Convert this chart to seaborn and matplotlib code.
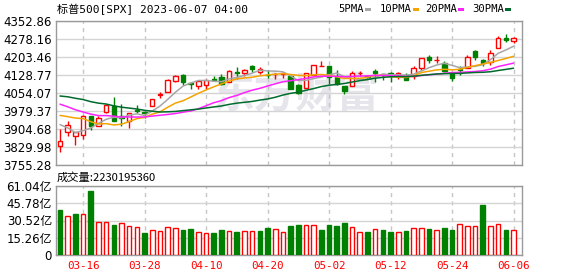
import numpy as np
import pandas as pd
import matplotlib
matplotlib.use("Agg")
import matplotlib.pyplot as plt
from matplotlib.patches import Rectangle
import seaborn as sns

# ---------------- data ----------------
dates = ['03-13','03-14','03-15','03-16','03-17','03-20','03-21','03-22','03-23','03-24',
         '03-27','03-28','03-29','03-30','03-31','04-03','04-04','04-05','04-06','04-10',
         '04-11','04-12','04-13','04-14','04-17','04-18','04-19','04-20','04-21','04-24',
         '04-25','04-26','04-27','04-28','05-01','05-02','05-03','05-04','05-05','05-08',
         '05-09','05-10','05-11','05-12','05-15','05-16','05-17','05-18','05-19','05-22',
         '05-23','05-24','05-25','05-26','05-30','05-31','06-01','06-02','06-05','06-06']

open_ = [3835.12, 3894.01, 3876.74, 3878.93, 3958.69, 3917.47, 3975.89, 4002.04, 3959.21, 3939.21,
         3982.93, 3974.13, 3999.53, 4046.74, 4056.18, 4102.20, 4128.03, 4094.50, 4081.15, 4085.20,
         4110.29, 4121.72, 4100.04, 4140.11, 4137.17, 4164.26, 4139.33, 4130.48, 4132.14, 4132.07,
         4126.43, 4087.78, 4075.29, 4129.63, 4166.79, 4164.10, 4122.25, 4082.61, 4084.73, 4136.98,
         4124.25, 4143.74, 4132.24, 4138.54, 4126.65, 4127.95, 4122.85, 4157.68, 4204.15, 4190.78,
         4176.80, 4132.96, 4155.71, 4156.16, 4226.71, 4190.74, 4183.03, 4241.01, 4282.99, 4271.61]

high = [3905.05, 3937.29, 3894.26, 3964.46, 3958.91, 3956.62, 4009.08, 4039.49, 4007.66, 3972.74,
        4003.83, 3979.20, 4030.59, 4057.85, 4110.75, 4127.66, 4133.13, 4099.69, 4107.32, 4109.50,
        4124.26, 4134.37, 4150.26, 4163.19, 4151.72, 4169.48, 4162.57, 4148.57, 4138.02, 4142.41,
        4126.43, 4089.67, 4138.24, 4170.06, 4186.92, 4164.10, 4148.30, 4082.61, 4147.02, 4143.74,
        4130.35, 4154.28, 4132.80, 4143.07, 4141.25, 4135.54, 4164.67, 4199.03, 4212.91, 4209.22,
        4185.68, 4132.96, 4165.74, 4212.87, 4231.10, 4195.44, 4232.43, 4290.67, 4299.28, 4288.33]

low = [3808.86, 3873.63, 3838.24, 3864.11, 3901.27, 3916.89, 3971.19, 3936.17, 3919.05, 3909.16,
       3970.47, 3951.53, 3999.53, 4032.10, 4056.18, 4098.79, 4086.87, 4072.56, 4069.84, 4072.55,
       4102.61, 4086.94, 4099.40, 4113.20, 4123.18, 4140.36, 4134.49, 4114.57, 4113.86, 4117.77,
       4071.38, 4049.35, 4075.29, 4127.18, 4164.12, 4089.72, 4088.86, 4048.28, 4084.73, 4124.86,
       4116.65, 4098.92, 4109.29, 4099.12, 4110.27, 4109.86, 4113.62, 4149.42, 4180.20, 4179.68,
       4142.54, 4103.98, 4129.73, 4156.16, 4192.18, 4166.15, 4171.64, 4241.01, 4266.82, 4263.09]

close = [3855.76, 3919.29, 3891.93, 3960.28, 3916.64, 3951.57, 4002.87, 3936.97, 3948.72, 3970.99,
         3977.53, 3971.27, 4027.81, 4050.83, 4109.31, 4124.51, 4100.60, 4090.38, 4105.02, 4109.11,
         4108.94, 4091.95, 4146.22, 4137.64, 4151.32, 4154.87, 4154.52, 4129.79, 4133.52, 4137.04,
         4071.63, 4055.99, 4135.35, 4169.48, 4167.87, 4119.58, 4090.75, 4061.22, 4136.25, 4138.12,
         4119.17, 4137.64, 4130.62, 4124.08, 4136.28, 4109.90, 4158.77, 4198.05, 4191.98, 4192.63,
         4145.58, 4115.24, 4151.28, 4205.45, 4205.52, 4179.83, 4221.02, 4282.37, 4273.79, 4283.85]

# closes of the 30 sessions before 03-13 (feed the moving averages at the left edge)
prior_close = [4070.56, 4017.77, 4076.60, 4119.21, 4179.76, 4136.48, 4111.08, 4164.00, 4117.86, 4081.50,
               4090.46, 4137.29, 4136.13, 4147.60, 4090.41, 4079.09, 3997.34, 3991.05, 4012.32, 3970.04,
               3982.24, 3970.15, 3951.39, 3981.35, 4045.64, 4048.42, 3986.37, 3992.01, 3918.32, 3861.59]

# volume in 亿 (1e8)
volume_yi = [39.8, 34.5, 36.3, 36.3, 56.6, 29.2, 29.2, 26.5, 28.0, 25.7,
             24.5, 19.5, 22.1, 21.2, 24.8, 23.9, 22.1, 23.0, 20.3, 19.5,
             19.5, 22.4, 21.2, 20.3, 21.5, 21.2, 21.5, 23.9, 23.0, 20.3,
             25.7, 26.5, 26.2, 26.2, 22.1, 26.5, 25.7, 28.3, 24.5, 20.0,
             20.3, 22.7, 22.1, 20.3, 20.0, 21.2, 23.9, 23.9, 23.0, 22.1,
             23.9, 22.1, 27.1, 25.7, 25.4, 44.2, 25.4, 27.1, 22.1, 22.30195360]

price_ticks = [3755.28, 3829.98, 3904.68, 3979.37, 4054.07, 4128.77, 4203.46, 4278.16, 4352.86]
vol_ticks = [0, 15.26, 30.52, 45.78, 61.04]
vol_tick_labels = ['0', '15.26亿', '30.52亿', '45.78亿', '61.04亿']
tick_dates = ['03-16', '03-28', '04-10', '04-20', '05-02', '05-12', '05-24', '06-06']
ma_names = ['5PMA', '10PMA', '20PMA', '30PMA']
ma_periods = [5, 10, 20, 30]
title_text = '标普500[SPX] 2023-06-07 04:00'
vol_title = '成交量:2230195360'

# ---------------- style ----------------
RED = '#ff0000'
GREEN = '#008000'
ma_colors = ['#a6a6a6', '#f5a300', '#ff22ff', '#006b2c']
GRID = '#d4d4d4'
SPINE = '#9a9a9a'

sns.set_theme(style='white')
plt.rcParams['font.family'] = ['DejaVu Sans', 'Noto Sans CJK SC']

W, H = 578, 276
fig = plt.figure(figsize=(W / 100, H / 100), dpi=100)

def px_axes(left, top, right, bottom):
    return fig.add_axes([left / W, 1 - bottom / H, (right - left) / W, (bottom - top) / H])

ax = px_axes(56, 21, 522, 165)
axv = px_axes(56, 186, 522, 255)

n = len(dates)
x = np.arange(n)
o = np.array(open_); c = np.array(close); hi = np.array(high); lo = np.array(low)
up = c >= o
prev = np.concatenate([[prior_close[-1]], c[:-1]])
vol_up = c >= prev

xlim = (-0.52, n - 1 + 1.1)
tick_idx = [dates.index(d) for d in tick_dates]

for a in (ax, axv):
    a.set_facecolor('white')
    a.set_xlim(*xlim)
    for s in a.spines.values():
        s.set_color(SPINE); s.set_linewidth(1.0); s.set_visible(True)
    for t in tick_idx:
        a.axvline(t, color='#c6c6c6', lw=1.0, ls=(0, (3, 3)), zorder=0.5)
    a.tick_params(axis='both', length=0, pad=3, labelsize=8.5, colors='black')
    a.yaxis.grid(True, color=GRID, lw=1.0, zorder=0.4)
    a.xaxis.grid(False)

# watermark
ax.text(0.515, 0.49, '东方财富', transform=ax.transAxes, ha='center', va='center',
        fontsize=30, fontweight='bold', color='#e5e5eb', family=['Noto Sans CJK SC'], zorder=0.3)

# ---------------- candles ----------------
bw = 0.58
body_lo = np.minimum(o, c); body_hi = np.maximum(o, c)
body_h = np.maximum(body_hi - body_lo, 0.6)
cols = np.where(up, RED, GREEN)
ax.vlines(x, lo, body_lo, colors=cols, lw=1.0, zorder=2)
ax.vlines(x, body_hi, hi, colors=cols, lw=1.0, zorder=2)
ax.bar(x, body_h, bottom=body_lo, width=bw, color=np.where(up, 'white', GREEN),
       edgecolor=cols, linewidth=1.0, zorder=3)

# ---------------- moving averages ----------------
allc = pd.Series(prior_close + close)
rows = []
for name, p in zip(ma_names, ma_periods):
    ma = allc.rolling(p).mean().values[-n:]
    rows.append(pd.DataFrame({'x': x, 'v': ma, 'ma': name}))
madf = pd.concat(rows, ignore_index=True)
sns.lineplot(data=madf, x='x', y='v', hue='ma', hue_order=ma_names,
             palette=dict(zip(ma_names, ma_colors)), lw=1.1, legend=False, ax=ax, zorder=4)

ax.set_ylim(price_ticks[0], price_ticks[-1])
ax.set_yticks(price_ticks)
ax.set_yticklabels([f'{t:.2f}' for t in price_ticks])
ax.set_xticks(tick_idx)
ax.set_xticklabels([])
ax.set_xlabel(''); ax.set_ylabel('')

# ---------------- volume ----------------
vcols = np.where(vol_up, RED, GREEN)
axv.bar(x, volume_yi, width=0.6, color=np.where(vol_up, 'white', GREEN),
        edgecolor=vcols, linewidth=1.0, zorder=3)
axv.set_ylim(0, vol_ticks[-1])
axv.set_yticks(vol_ticks)
axv.set_yticklabels(vol_tick_labels)
axv.set_xticks(tick_idx)
axv.set_xticklabels(tick_dates, color=RED, fontsize=7.8, family=['DejaVu Sans Mono'])
axv.tick_params(axis='x', pad=4)

# ---------------- texts / legend ----------------
fig.text(57 / W, 1 - 9.5 / H, title_text, ha='left', va='center', fontsize=8.0,
         family=['DejaVu Sans Mono', 'Noto Sans CJK SC'], color='black')
fig.text(57 / W, 1 - 177 / H, vol_title, ha='left', va='center', fontsize=8.1,
         family=['Noto Sans CJK SC', 'DejaVu Sans'], color='black')

leg_text_x = [338, 380, 425, 472]
leg_rect_x = [365, 413, 458, 505]
for name, col, tx, rx in zip(ma_names, ma_colors, leg_text_x, leg_rect_x):
    fig.text(tx / W, 1 - 9.5 / H, name, ha='left', va='center', fontsize=7.6,
             family=['DejaVu Sans Mono'], color='black')
    fig.patches.append(Rectangle((rx / W, 1 - 11 / H), 6 / W, 3 / H, transform=fig.transFigure,
                                 facecolor=col, edgecolor='none'))

fig.savefig('out.png', dpi=100, facecolor='white')
